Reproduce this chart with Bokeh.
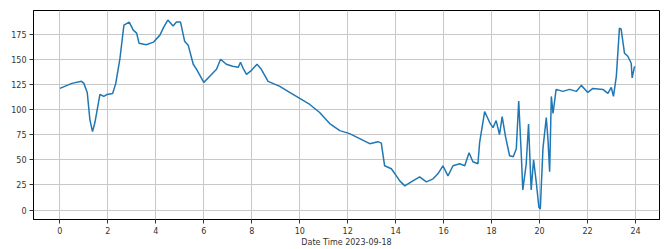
from bokeh.plotting import figure
from bokeh.models import Range1d, FixedTicker
from bokeh.embed import file_html
from bokeh.resources import INLINE

hours = [0.0, 0.2, 0.5, 0.9, 1.0, 1.14, 1.25, 1.36, 1.46, 1.67, 1.83, 1.97, 2.2, 2.33, 2.5, 2.67, 2.89,
         3.06, 3.2, 3.3, 3.6, 3.9, 4.17, 4.33, 4.5, 4.72, 4.86, 5.03, 5.2, 5.35, 5.56, 5.7, 6.0,
         6.25, 6.53, 6.7, 6.94, 7.2, 7.44, 7.53, 7.64, 7.78, 7.99, 8.22, 8.4, 8.68, 9.17, 9.58,
         10.07, 10.42, 10.83, 11.25, 11.67, 12.08, 12.5, 12.92, 13.26, 13.4, 13.54, 13.82, 14.03,
         14.17, 14.38, 14.65, 15.0, 15.28, 15.56, 15.76, 15.97, 16.18, 16.39, 16.67, 16.88, 17.06,
         17.22, 17.43, 17.5, 17.71, 17.92, 18.06, 18.19, 18.33, 18.44, 18.58, 18.75, 18.9, 19.03,
         19.13, 19.24, 19.3, 19.44, 19.54, 19.65, 19.75, 19.86, 19.97, 20.03, 20.14, 20.28, 20.35,
         20.42, 20.49, 20.56, 20.69, 20.97, 21.25, 21.53, 21.74, 22.01, 22.22, 22.64, 22.85, 22.99,
         23.08, 23.2, 23.33, 23.4, 23.54, 23.68, 23.82, 23.86, 23.96]
values = [121, 123, 126, 128, 126, 117, 90, 78, 87, 115, 113, 115, 116, 126, 150, 184, 187,
          179, 176, 166, 164.5, 167, 174, 182, 189, 183, 187, 187, 168, 164, 145, 140, 127,
          133, 140, 150, 145, 143, 142, 147, 141, 135, 139, 145, 140, 128, 123, 117,
          110, 105, 97, 86, 79, 76, 71, 66, 68, 66.5, 44, 41, 34,
          29, 24, 28, 33, 28, 31, 36, 44, 34, 44, 46, 44, 57,
          48, 46, 67, 98, 87, 82, 89, 75, 93, 73, 54, 53, 61,
          108.5, 54, 20, 45, 85.5, 20, 50, 28, 3, 1, 61, 92, 70,
          38, 113, 96, 120, 118, 120, 118, 124, 117, 121, 120, 116, 122,
          113, 133, 181, 180, 156, 153, 146, 131.5, 143]
x_ticks = [0, 2, 4, 6, 8, 10, 12, 14, 16, 18, 20, 22, 24]
y_ticks = [0, 25, 50, 75, 100, 125, 150, 175]
x_label = "Date Time 2023-09-18"

p = figure(width=665, height=249, output_backend="svg", toolbar_location=None,
           x_range=Range1d(-1.1, 25.0), y_range=Range1d(-9.45, 198.5),
           min_border_left=33, min_border_right=6, min_border_top=10, min_border_bottom=29)

p.line(hours, values, line_color="#1f77b4", line_width=1.5)

p.outline_line_color = "black"
p.outline_line_width = 1
p.background_fill_color = "white"
p.border_fill_color = "white"

for ax in (p.xaxis[0], p.yaxis[0]):
    ax.major_tick_in = 0
    ax.major_tick_out = 4
    ax.minor_tick_line_color = None
    ax.axis_line_color = "black"
    ax.major_label_text_font = "DejaVu Sans"
    ax.major_label_text_font_size = "8px"
    ax.major_label_text_color = "#333333"
    ax.major_tick_line_color = "#333333"

p.xaxis[0].ticker = FixedTicker(ticks=x_ticks)
p.yaxis[0].ticker = FixedTicker(ticks=y_ticks)
p.xaxis[0].major_label_standoff = 3
p.yaxis[0].major_label_standoff = 3
p.xaxis[0].axis_label = x_label
p.xaxis[0].axis_label_text_font = "DejaVu Sans"
p.xaxis[0].axis_label_text_font_size = "8px"
p.xaxis[0].axis_label_text_font_style = "normal"
p.xaxis[0].axis_label_text_color = "#333333"
p.xaxis[0].axis_label_standoff = 1

p.xgrid.grid_line_color = "#c8c8c8"
p.ygrid.grid_line_color = "#c8c8c8"
p.xgrid.grid_line_width = 1
p.ygrid.grid_line_width = 1

open("out.html", "w").write(file_html(p, INLINE))
